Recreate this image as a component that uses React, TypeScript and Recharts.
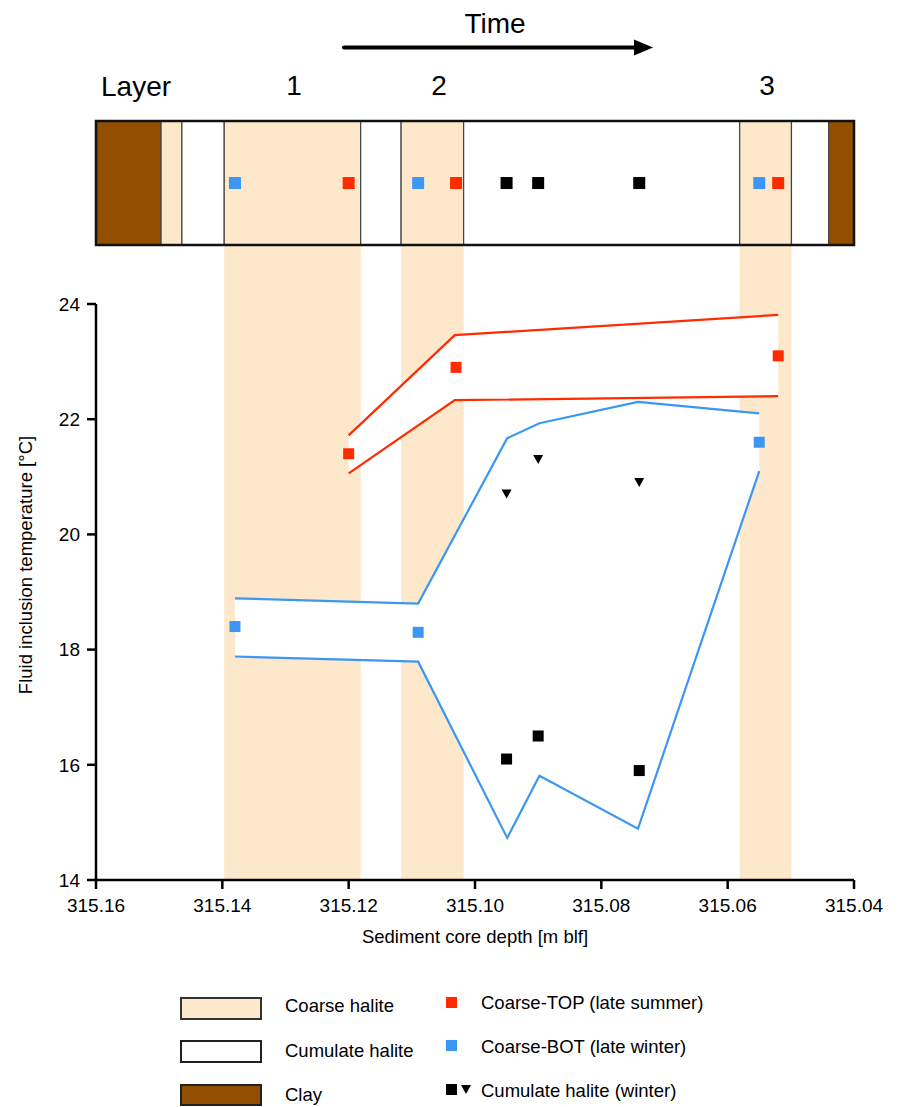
import React from "react";
import { ComposedChart, XAxis, YAxis, Scatter, Area, ReferenceArea } from "recharts";

const FONT = '"Liberation Sans", Arial, Helvetica, sans-serif';
const BEIGE = "#FDE8CB";
const CLAY = "#924F00";
const RED = "#FF2A00";
const BLUE = "#3B97F2";

const depthTicks = [315.16, 315.14, 315.12, 315.1, 315.08, 315.06, 315.04];
const tempTicks = [14, 16, 18, 20, 22, 24];

// core log, left to right (deep -> shallow)
const layerFrom = [315.16, 315.1497, 315.1464, 315.1397, 315.1181, 315.1117, 315.1018, 315.0581, 315.0499, 315.044];
const layerTo = [315.1497, 315.1464, 315.1397, 315.1181, 315.1117, 315.1018, 315.0581, 315.0499, 315.044, 315.04];
const layerKind = ["clay", "coarse", "cumulate", "coarse", "cumulate", "coarse", "cumulate", "coarse", "cumulate", "clay"];
const layerNumber = ["", "", "", "1", "", "2", "", "3", "", ""];

// measured inclusions
const topDepth = [315.12, 315.103, 315.052];
const topTemp = [21.4, 22.9, 23.1];
const botDepth = [315.138, 315.109, 315.055];
const botTemp = [18.4, 18.3, 21.6];
const cumDepth = [315.095, 315.09, 315.074];
const cumSquareTemp = [16.1, 16.5, 15.9];
const cumTriangleTemp = [20.7, 21.3, 20.9];

// envelopes
const redEnvDepth = [315.12, 315.1032, 315.052];
const redHigh = [21.72, 23.46, 23.81];
const redLow = [21.06, 22.33, 22.4];
const blueEnvDepth = [315.138, 315.109, 315.0949, 315.0898, 315.0742, 315.055];
const blueHigh = [18.89, 18.8, 21.67, 21.93, 22.3, 22.1];
const blueLow = [17.88, 17.79, 14.73, 15.81, 14.89, 21.1];

const kindFill = { clay: CLAY, coarse: BEIGE, cumulate: "#fff" };

const pts = (xs, ys) => xs.map((d, i) => ({ depth: d, t: ys[i] }));
const env = (xs, lo, hi) => xs.map((d, i) => ({ depth: d, range: [lo[i], hi[i]] }));

const bands = layerNumber
  .map((n, i) => ({ n, from: layerFrom[i], to: layerTo[i] }))
  .filter((b) => b.n !== "");

const square = (color, s = 11) => (p) =>
  <rect x={p.cx - s / 2} y={p.cy - s / 2} width={s} height={s} fill={color} />;

const downTriangle = (p) => (
  <path d={`M${p.cx - 5},${p.cy - 4.5}L${p.cx + 5},${p.cy - 4.5}L${p.cx},${p.cy + 4.5}Z`} fill="#000" />
);

const X_DOMAIN = [315.04, 315.16];

const StripChart = () => (
  <ComposedChart width={898} height={320} margin={{ top: 121, right: 44, bottom: 16, left: 96 }}>
    <XAxis type="number" dataKey="depth" domain={X_DOMAIN} reversed hide allowDataOverflow />
    <YAxis type="number" dataKey="y" domain={[-0.475, 1]} hide allowDataOverflow />
    {bands.map((b) => (
      <ReferenceArea key={"c" + b.n} x1={b.from} x2={b.to} y1={-0.475} y2={0} fill={BEIGE} fillOpacity={1} stroke="none" />
    ))}
    {layerKind.map((k, i) => (
      <ReferenceArea key={i} x1={layerFrom[i]} x2={layerTo[i]} y1={0} y2={1} fill={kindFill[k]} fillOpacity={1} stroke="#444" strokeWidth={1.2} />
    ))}
    <ReferenceArea x1={315.16} x2={315.04} y1={0} y2={1} fill="none" stroke="#111" strokeWidth={2.5} />
    <Scatter data={botDepth.map((d) => ({ depth: d, y: 0.5 }))} shape={square(BLUE, 12)} isAnimationActive={false} />
    <Scatter data={topDepth.map((d) => ({ depth: d, y: 0.5 }))} shape={square(RED, 12)} isAnimationActive={false} />
    <Scatter data={cumDepth.map((d) => ({ depth: d, y: 0.5 }))} shape={square("#000", 12)} isAnimationActive={false} />
  </ComposedChart>
);

const tickStyle = { fontFamily: FONT, fontSize: 19, fill: "#000" };
const axisStroke = { stroke: "#000", strokeWidth: 2.5 };

const MainChart = () => (
  <ComposedChart width={898} height={960} margin={{ top: 304, right: 44, bottom: 20, left: 36 }}>
    <XAxis
      type="number"
      dataKey="depth"
      domain={X_DOMAIN}
      reversed
      allowDataOverflow
      ticks={depthTicks}
      tickFormatter={(v) => v.toFixed(2)}
      tick={tickStyle}
      height={60}
      tickSize={9}
      tickMargin={10}
      axisLine={axisStroke}
      tickLine={axisStroke}
    />
    <YAxis
      type="number"
      dataKey="t"
      domain={[14, 24]}
      ticks={tempTicks}
      allowDataOverflow
      tick={tickStyle}
      width={60}
      tickSize={9}
      tickMargin={7}
      axisLine={axisStroke}
      tickLine={axisStroke}
    />
    {bands.map((b) => (
      <ReferenceArea key={b.n} x1={b.from} x2={b.to} y1={14} y2={24} fill={BEIGE} fillOpacity={1} stroke="none" />
    ))}
    <Area
      data={env(blueEnvDepth, blueLow, blueHigh)}
      dataKey="range"
      type="linear"
      fill="#fff"
      fillOpacity={1}
      stroke={BLUE}
      strokeWidth={2.2}
      dot={false}
      activeDot={false}
      isAnimationActive={false}
    />
    <Area
      data={env(redEnvDepth, redLow, redHigh)}
      dataKey="range"
      type="linear"
      fill="#fff"
      fillOpacity={1}
      stroke={RED}
      strokeWidth={2.2}
      dot={false}
      activeDot={false}
      isAnimationActive={false}
    />
    <Scatter data={pts(topDepth, topTemp)} shape={square(RED)} isAnimationActive={false} />
    <Scatter data={pts(botDepth, botTemp)} shape={square(BLUE)} isAnimationActive={false} />
    <Scatter data={pts(cumDepth, cumSquareTemp)} shape={square("#000")} isAnimationActive={false} />
    <Scatter data={pts(cumDepth, cumTriangleTemp)} shape={downTriangle} isAnimationActive={false} />
  </ComposedChart>
);

const txt = { fontFamily: FONT, fill: "#000" };

const Overlay = () => (
  <svg width={898} height={1107} style={{ position: "absolute", left: 0, top: 0, pointerEvents: "none" }}>
    <text x={495} y={33} textAnchor="middle" fontSize={28} {...txt}>Time</text>
    <line x1={344} y1={47.5} x2={638} y2={47.5} stroke="#000" strokeWidth={4} strokeLinecap="round" />
    <path d="M634,39.5 L653,47.5 L634,55.5 Z" fill="#000" />
    <text x={101} y={96} fontSize={28} {...txt}>Layer</text>
    <text x={294} y={95} textAnchor="middle" fontSize={28} {...txt}>1</text>
    <text x={439} y={95} textAnchor="middle" fontSize={28} {...txt}>2</text>
    <text x={767} y={95} textAnchor="middle" fontSize={28} {...txt}>3</text>

    <text x={32} y={565} transform="rotate(-90 32 565)" textAnchor="middle" fontSize={18.5} {...txt}>
      Fluid inclusion temperature [°C]
    </text>
    <text x={475} y={943} textAnchor="middle" fontSize={18.5} {...txt}>Sediment core depth [m blf]</text>

    <rect x={181} y={998} width={80} height={21} fill={BEIGE} stroke="#333" strokeWidth={2} />
    <rect x={181} y={1041} width={80} height={21} fill="#fff" stroke="#222" strokeWidth={2} />
    <rect x={181} y={1085} width={80} height={20} fill={CLAY} stroke="#222" strokeWidth={2} />
    <text x={285} y={1012} fontSize={18.5} {...txt}>Coarse halite</text>
    <text x={285} y={1057} fontSize={18.5} {...txt}>Cumulate halite</text>
    <text x={285} y={1101} fontSize={18.5} {...txt}>Clay</text>

    <rect x={446} y={997} width={11} height={11} fill={RED} />
    <rect x={446} y={1040} width={11} height={11} fill={BLUE} />
    <rect x={446} y={1084} width={11} height={11} fill="#000" />
    <path d="M461,1085 L471,1085 L466,1094 Z" fill="#000" />
    <text x={481} y={1009} fontSize={18.5} {...txt}>Coarse-TOP (late summer)</text>
    <text x={481} y={1053} fontSize={18.5} {...txt}>Coarse-BOT (late winter)</text>
    <text x={481} y={1097} fontSize={18.5} {...txt}>Cumulate halite (winter)</text>
  </svg>
);

export default function App() {
  return (
    <div style={{ position: "absolute", left: 0, top: 0, width: 898, height: 1107, background: "#fff" }}>
      <div style={{ position: "absolute", left: 0, top: 0 }}>
        <MainChart />
      </div>
      <div style={{ position: "absolute", left: 0, top: 0 }}>
        <StripChart />
      </div>
      <Overlay />
    </div>
  );
}
